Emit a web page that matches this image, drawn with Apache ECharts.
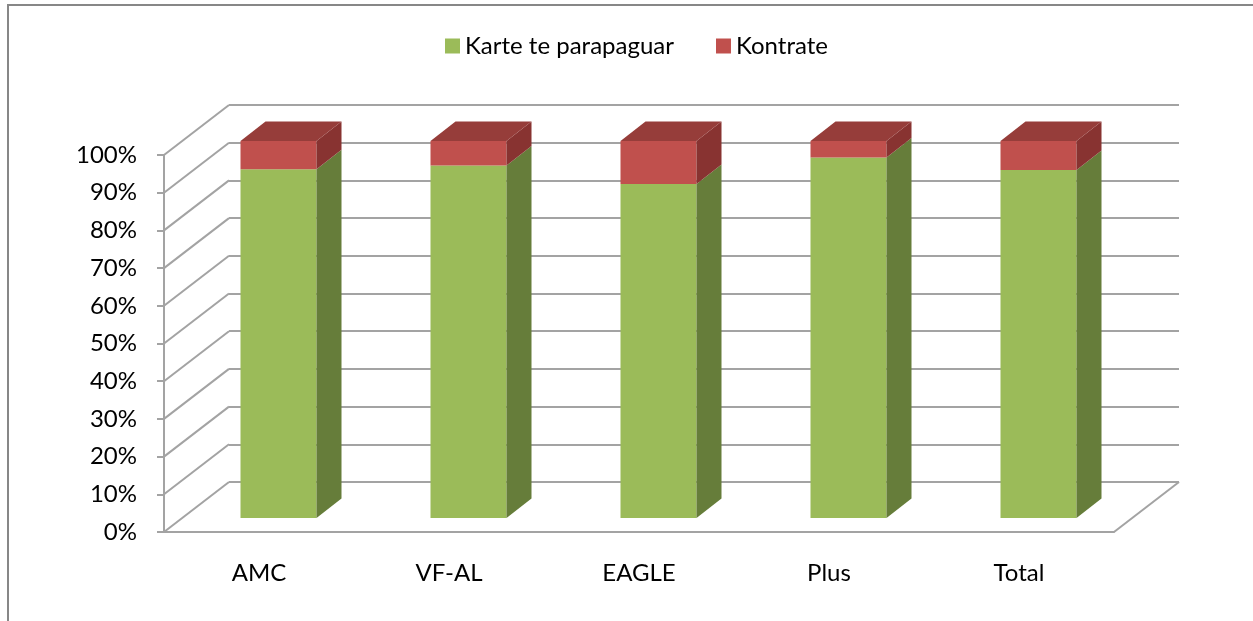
<!DOCTYPE html>
<html>
<head>
<meta charset="utf-8">
<script src="https://cdn.jsdelivr.net/npm/echarts@6/dist/echarts.min.js"></script>
<style>
  html, body { margin: 0; padding: 0; background: #fff; }
  #chart { width: 1253px; height: 621px; }
</style>
</head>
<body>
<div id="chart"></div>
<script>
// data
const categories = ['AMC', 'VF-AL', 'EAGLE', 'Plus', 'Total'];
const karteValues = [92.5, 93.5, 88.6, 95.6, 92.3];
const kontrateValues = [7.5, 6.5, 11.4, 4.4, 7.7];
const yTicks = [0, 10, 20, 30, 40, 50, 60, 70, 80, 90, 100];

// 3d look
const WALL_DX = 65, WALL_DY = -50;   // front plane -> back wall
const BAR_OX = 19.5, BAR_OY = -14;   // front plane -> bar front
const BAR_DX = 25, BAR_DY = -19.5;   // bar depth
const GRID_COLOR = '#a3a3a3';
const FONT = 'Lato';
const FONT_SIZE = 24;

function barRenderer(front, side, top) {
  return function (params, api) {
    const lo = api.coord([api.value(0), api.value(1)]);
    const hi = api.coord([api.value(0), api.value(2)]);
    const w = api.size([1, 0])[0] * 0.4;
    const x0 = hi[0] - w / 2 + BAR_OX;
    const yt = hi[1] + BAR_OY;
    const yb = lo[1] + BAR_OY;
    const children = [
      {
        type: 'rect',
        shape: { x: x0, y: yt, width: w, height: yb - yt },
        style: { fill: front }
      },
      {
        type: 'polygon',
        shape: { points: [[x0 + w, yt], [x0 + w + BAR_DX, yt + BAR_DY], [x0 + w + BAR_DX, yb + BAR_DY], [x0 + w, yb]] },
        style: { fill: side }
      }
    ];
    if (top) {
      children.push({
        type: 'polygon',
        shape: { points: [[x0, yt], [x0 + BAR_DX, yt + BAR_DY], [x0 + w + BAR_DX, yt + BAR_DY], [x0 + w, yt]] },
        style: { fill: top }
      });
    }
    return { type: 'group', children: children };
  };
}

let myChart = echarts.init(document.getElementById('chart'));

let options = {
  animation: false,
  textStyle: { fontFamily: FONT },
  legend: {
    data: ['Karte te parapaguar', 'Kontrate'],
    left: 440,
    top: 29,
    icon: 'rect',
    itemWidth: 15,
    itemHeight: 15,
    itemGap: 42,
    textStyle: { fontFamily: FONT, fontSize: FONT_SIZE, color: '#000' }
  },
  graphic: [
    { type: 'line', shape: { x1: 8, y1: 4, x2: 8, y2: 621 }, style: { stroke: '#878787', lineWidth: 2 } },
    { type: 'line', shape: { x1: 7, y1: 5, x2: 1253, y2: 5 }, style: { stroke: '#878787', lineWidth: 2 } }
  ],
  grid: [
    { left: 164, right: 139, top: 155, bottom: 89 },
    { left: 164 + WALL_DX, right: 139 - WALL_DX, top: 155 + WALL_DY, bottom: 89 - WALL_DY }
  ],
  xAxis: [
    {
      type: 'category',
      gridIndex: 0,
      data: categories,
      axisLine: { lineStyle: { color: GRID_COLOR, width: 2 } },
      axisTick: { length: 7, lineStyle: { color: GRID_COLOR, width: 2 } },
      axisLabel: { margin: 29, fontSize: FONT_SIZE, color: '#000', fontFamily: FONT }
    },
    {
      type: 'category',
      gridIndex: 1,
      data: categories,
      show: false
    }
  ],
  yAxis: [
    {
      type: 'value',
      gridIndex: 0,
      min: 0,
      max: 100,
      interval: 10,
      axisLine: { show: true, lineStyle: { color: GRID_COLOR, width: 2 } },
      axisTick: { show: true, length: 7, lineStyle: { color: GRID_COLOR, width: 2 } },
      splitLine: { show: false },
      axisLabel: { margin: 27, fontSize: FONT_SIZE, color: '#000', fontFamily: FONT, formatter: '{value}%' }
    },
    {
      type: 'value',
      gridIndex: 1,
      min: 0,
      max: 100,
      interval: 10,
      axisLine: { show: false },
      axisTick: { show: false },
      axisLabel: { show: false },
      splitLine: { show: true, lineStyle: { color: GRID_COLOR, width: 2 } }
    }
  ],
  series: [
    {
      // left wall diagonals
      name: 'wall',
      type: 'custom',
      xAxisIndex: 0,
      yAxisIndex: 0,
      silent: true,
      z: 1,
      data: yTicks.map(v => [0, v]),
      renderItem: function (params, api) {
        const x = params.coordSys.x;
        const y = api.coord([0, api.value(1)])[1];
        return {
          type: 'line',
          shape: { x1: x, y1: y, x2: x + WALL_DX, y2: y + WALL_DY },
          style: { stroke: GRID_COLOR, lineWidth: 2 }
        };
      }
    },
    {
      // right edge of the floor
      name: 'floor',
      type: 'custom',
      xAxisIndex: 0,
      yAxisIndex: 0,
      silent: true,
      z: 1,
      data: [[categories.length - 1, 0]],
      renderItem: function (params, api) {
        const x = params.coordSys.x + params.coordSys.width;
        const y = api.coord([api.value(0), api.value(1)])[1];
        return {
          type: 'line',
          shape: { x1: x, y1: y, x2: x + WALL_DX, y2: y + WALL_DY },
          style: { stroke: GRID_COLOR, lineWidth: 2 }
        };
      }
    },
    {
      name: 'Karte te parapaguar',
      type: 'custom',
      xAxisIndex: 0,
      yAxisIndex: 0,
      z: 3,
      itemStyle: { color: '#9bbb59' },
      data: karteValues.map((v, i) => [i, 0, v]),
      renderItem: barRenderer('#9bbb59', '#667d3a', null)
    },
    {
      name: 'Kontrate',
      type: 'custom',
      xAxisIndex: 0,
      yAxisIndex: 0,
      z: 4,
      itemStyle: { color: '#c0504d' },
      data: kontrateValues.map((v, i) => [i, karteValues[i], karteValues[i] + v]),
      renderItem: barRenderer('#c0504d', '#883331', '#963d3a')
    }
  ]
};

myChart.setOption(options);
</script>
</body>
</html>
